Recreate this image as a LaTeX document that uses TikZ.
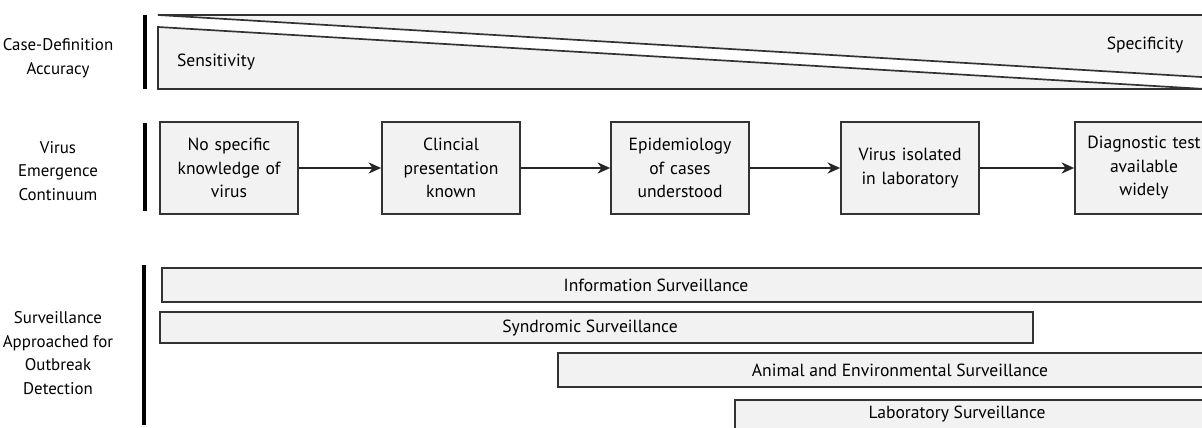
\documentclass[tikz,border=0pt]{standalone}
\usepackage{fontspec}
\setmainfont{PT Sans}
\usetikzlibrary{positioning,arrows.meta}

\begin{document}
\begin{tikzpicture}[
    x=0.025cm, y=-0.025cm,
    txt/.style={font=\fontsize{12.5}{16.7}\selectfont, align=center, inner sep=1pt},
    rowlabel/.style={txt, font=\fontsize{12}{16.7}\selectfont},
    stage/.style={txt, draw=black!80, line width=1.2pt, fill=gray!10, minimum width=3.45cm, minimum height=2.3cm, text width=3.3cm},
    band/.style={draw=black!80, line width=1.2pt, fill=gray!10},
    rowbar/.style={line width=3pt, black},
    flow/.style={-{Stealth[length=9pt,width=8pt]}, line width=1.2pt, black!85}
]
\useasboundingbox (0,0) rectangle (1202,427);

% Row labels on the left
\node[rowlabel] (acc) at (58,58) {Case-Definition\\Accuracy};
\node[rowlabel] (cont) at (58,171) {Virus\\Emergence\\Continuum};
\node[rowlabel] (surv) at (58,353) {Surveillance\\Approached for\\Outbreak\\Detection};

% Row separators
\draw[rowbar] (145,15) -- (145,89);
\draw[rowbar] (145,123) -- (145,211);
\draw[rowbar] (144,265) -- (144,425);

% Case-definition accuracy: two wedges
\filldraw[band] (158,15) -- (1215,15) -- (1215,77.8) -- cycle;
\filldraw[band] (158,27) -- (1205,89) -- (158,89) -- cycle;
\node[txt] (sens) at (216,62) {Sensitivity};
\node[txt] (spec) at (1145,45) {Specificity};

% Virus emergence continuum
\node[stage] (s1) at (229,168) {No specific\\knowledge of\\virus};
\node[stage] (s2) at (451,168) {Clincial\\presentation\\known};
\node[stage] (s3) at (680,168) {Epidemiology\\of cases\\understood};
\node[stage] (s4) at (910,168) {Virus isolated\\in laboratory};
\node[stage] (s5) at (1144,168) {Diagnostic test\\available\\widely};

\foreach \a/\b in {s1/s2,s2/s3,s3/s4,s4/s5}
    \draw[flow] (\a) -- (\b);

% Surveillance approaches
\draw[band] (162,268) rectangle (1215,302);
\node[txt] (info) at (656,285) {Information Surveillance};
\draw[band] (160,312) rectangle (1033,343);
\node[txt] (synd) at (590,328) {Syndromic Surveillance};
\draw[band] (558,353) rectangle (1215,387);
\node[txt] (anim) at (900,370) {Animal and Environmental Surveillance};
\draw[band] (735,400) rectangle (1215,440);
\node[txt] (lab) at (957,414) {Laboratory Surveillance};

\end{tikzpicture}
\end{document}
